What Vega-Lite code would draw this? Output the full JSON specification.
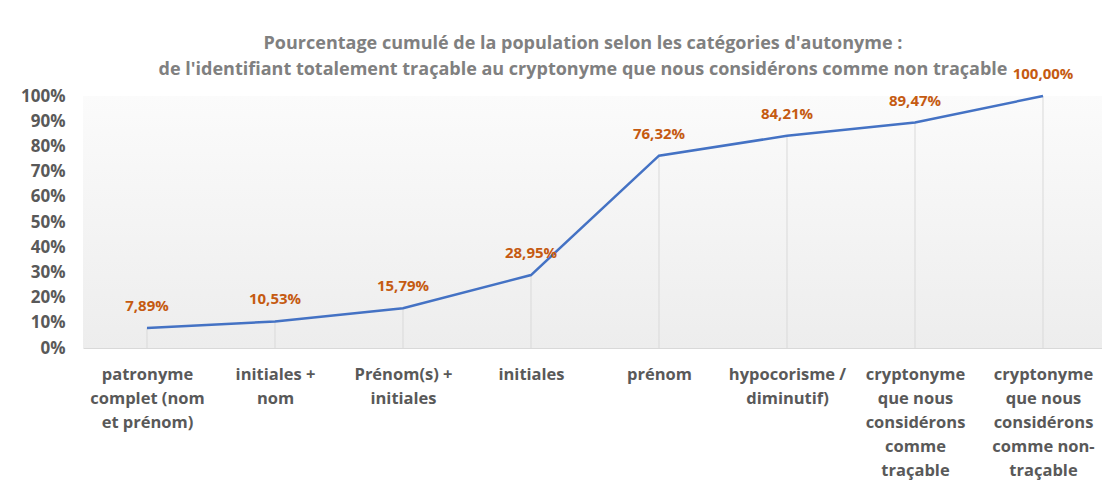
{
  "$schema": "https://vega.github.io/schema/vega-lite/v6.json",
  "autosize": "none",
  "width": 1024,
  "height": 252,
  "padding": {"left": 83, "top": 96, "right": 0, "bottom": 138},
  "background": "white",
  "config": {
    "locale": {"number": {"decimal": ",", "thousands": " ", "grouping": [3], "currency": ["", " €"]}},
    "view": {"stroke": null, "fill": {"gradient": "linear", "x1": 0, "y1": 0, "x2": 0, "y2": 1, "stops": [{"offset": 0, "color": "#fbfbfb"}, {"offset": 1, "color": "#ededed"}]}},
    "font": "Open Sans"
  },
  "title": {
    "text": ["Pourcentage cumulé de la population selon les catégories d'autonyme :", "de l'identifiant totalement traçable au cryptonyme que nous considérons comme non traçable"],
    "font": "Open Sans", "fontSize": 18, "fontWeight": "bold", "color": "#808080",
    "anchor": "middle", "offset": -12, "lineHeight": 26, "dx": -12
  },
  "data": {"values": [
    {"cat": "patronyme|complet (nom|et prénom)", "v": 0.0789},
    {"cat": "initiales +|nom", "v": 0.1053},
    {"cat": "Prénom(s) +|initiales", "v": 0.1579},
    {"cat": "initiales", "v": 0.2895},
    {"cat": "prénom", "v": 0.7632},
    {"cat": "hypocorisme /|diminutif)", "v": 0.8421},
    {"cat": "cryptonyme|que nous|considérons|comme|traçable", "v": 0.8947},
    {"cat": "cryptonyme|que nous|considérons|comme non-|traçable", "v": 1.0}
  ]},
  "encoding": {
    "x": {
      "field": "cat", "type": "nominal", "sort": null, "title": null,
      "scale": {"type": "point", "padding": 0.5},
      "axis": {
        "labelExpr": "split(datum.value, '|')",
        "labelAngle": 0, "labelFont": "Open Sans", "labelFontSize": 16.5, "labelFontWeight": "bold",
        "labelColor": "#595959", "labelLineHeight": 24, "labelPadding": 18, "labelLimit": 300,
        "ticks": false, "domainColor": "#d9d9d9", "domainWidth": 1, "grid": false
      }
    },
    "y": {
      "field": "v", "type": "quantitative", "title": null,
      "scale": {"domain": [0, 1]},
      "axis": {
        "format": ".0%", "values": [0, 0.1, 0.2, 0.3, 0.4, 0.5, 0.6, 0.7, 0.8, 0.9, 1.0],
        "labelFont": "Open Sans", "labelFontSize": 17, "labelFontWeight": "bold", "labelColor": "#595959",
        "labelPadding": 18, "ticks": false, "domain": false, "grid": false
      }
    }
  },
  "layer": [
    {"mark": {"type": "rule", "color": "#d9d9d9", "strokeWidth": 1}, "encoding": {"y2": {"datum": 0}}},
    {"mark": {"type": "line", "color": "#4472C4", "strokeWidth": 2.5}},
    {"mark": {"type": "text", "dy": -22, "font": "Open Sans", "fontSize": 15, "fontWeight": "bold", "color": "#C55A11"},
     "encoding": {"text": {"field": "v", "type": "quantitative", "format": ".2%"}}}
  ]
}
